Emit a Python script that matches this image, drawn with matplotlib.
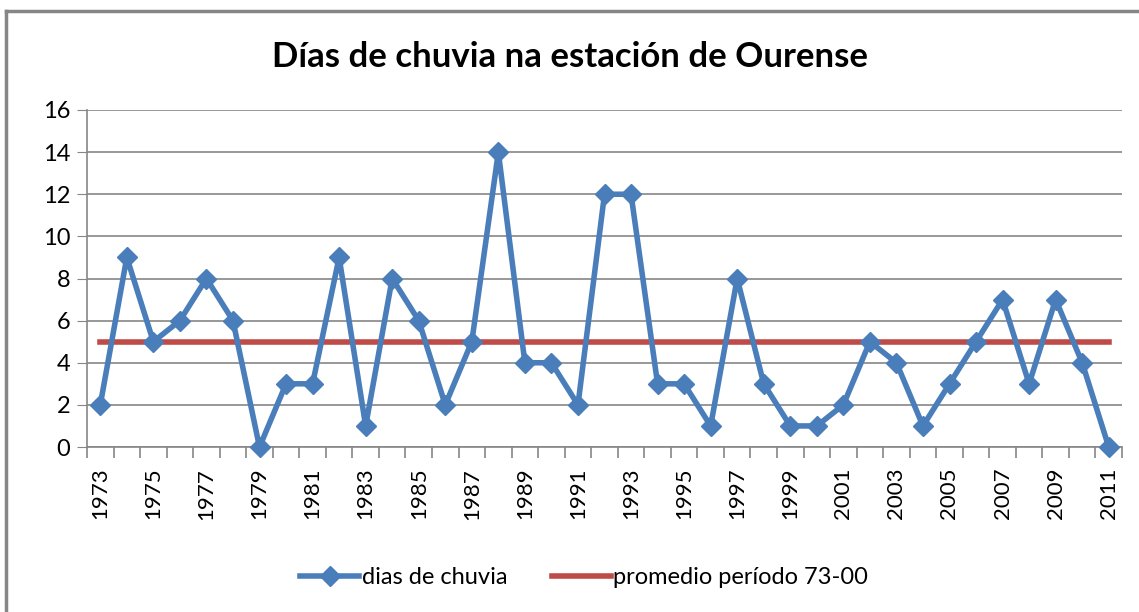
import numpy as np
import matplotlib
matplotlib.use("Agg")
import matplotlib.pyplot as plt
from matplotlib.lines import Line2D

years = list(range(1973, 2012))
dias = [2, 9, 5, 6, 8, 6, 0, 3, 3, 9, 1, 8, 6, 2, 5, 14, 4, 4, 2, 12, 12,
        3, 3, 1, 8, 3, 1, 1, 2, 5, 4, 1, 3, 5, 7, 3, 7, 4, 0]
promedio = [5] * len(years)

plt.rcParams['font.family'] = ['Lato', 'DejaVu Sans']

W, H = 1139, 612
fig = plt.figure(figsize=(W / 100, H / 100), dpi=100)
ax = fig.add_axes([87 / W, 1 - 447 / H, (1122 - 87) / W, (447 - 110) / H])

x = np.arange(len(years))
ax.plot(x, dias, '-D', color='#4a7ebb', linewidth=4, markersize=10,
        label='dias de chuvia', zorder=3, clip_on=False)
ax.plot(x, promedio, '-', color='#be4b48', linewidth=4,
        label='promedio período 73-00', zorder=2)

ax.set_xlim(-0.5, len(years) - 0.5)
ax.set_ylim(0, 16)
ax.set_yticks(range(0, 17, 2))
ax.tick_params(axis='y', labelsize=17, length=7, color='#868686', pad=5)
ax.yaxis.grid(True, color='#868686', linewidth=1.2)
ax.set_axisbelow(True)

ax.set_xticks(np.arange(len(years) + 1) - 0.5)
ax.set_xticklabels([])
ax.set_xticks(x[::2], minor=True)
ax.set_xticklabels([str(y) for y in years[::2]], minor=True, rotation=90,
                   fontsize=16)
ax.tick_params(axis='x', which='major', length=8, color='#868686', width=1.2)
ax.tick_params(axis='x', which='minor', length=0, pad=15)

for s in ['top', 'right']:
    ax.spines[s].set_visible(False)
for s in ['left', 'bottom']:
    ax.spines[s].set_color('#868686')
    ax.spines[s].set_linewidth(1.2)

fig.text(0.5, 1 - 57 / H, 'Días de chuvia na estación de Ourense',
         ha='center', va='center', fontsize=25, fontweight='bold')

leg = fig.legend(loc='center', bbox_to_anchor=(0.513, 1 - 578 / H), ncol=2,
                 frameon=False, fontsize=17, handlelength=2.5,
                 columnspacing=1.9, handletextpad=0.1)

fig.add_artist(Line2D([6 / W, 1], [1 - 11 / H, 1 - 11 / H],
                      transform=fig.transFigure, color='#868686', linewidth=2.5))
fig.add_artist(Line2D([6 / W, 6 / W], [0, 1 - 11 / H],
                      transform=fig.transFigure, color='#868686', linewidth=2.5))

fig.savefig('out.png', dpi=100)
